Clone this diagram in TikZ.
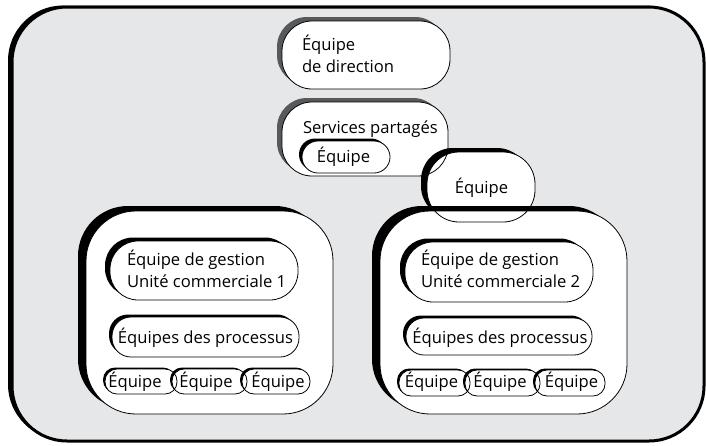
\documentclass[tikz,border=0pt]{standalone}
\usepackage{fontspec}
\setmainfont{Open Sans}
\usetikzlibrary{shadows}
\definecolor{panel}{HTML}{E6E7E8}
\definecolor{brushgray}{HTML}{58595B}
\newcommand{\labelfont}{\fontsize{16.6}{22}\selectfont}
\tikzset{
  card/.style={rectangle, fill=white, draw=none, inner sep=0pt, outer sep=0pt},
  brush/.style 2 args={general shadow={fill=black, shadow xshift=-#1, shadow yshift=#2}},
  greybrush/.style 2 args={general shadow={fill=brushgray, shadow xshift=-#1, shadow yshift=#2}},
  txt/.style={inner sep=0pt, outer sep=0pt, font=\labelfont},
  rim/.style={draw=black, line width=0.8pt},
}
\begin{document}
\begin{tikzpicture}[x=1pt, y=-1pt]
\useasboundingbox (0,0) rectangle (706,445);

% background panel
\node[card, fill=panel, draw=black, line width=3pt, rounded corners=55pt,
      brush={4pt}{1.5pt}, minimum width=692pt, minimum height=434pt] (panel) at (358,224) {};

% management and shared services
\node[card, rounded corners=30pt, greybrush={5pt}{4pt}, minimum width=168pt, minimum height=68pt] (dir) at (366,55) {};
\node[card, rounded corners=30pt, greybrush={5pt}{4pt}, minimum width=166pt, minimum height=74pt] (svc) at (365,139) {};
\node[card, rounded corners=16pt, brush={3pt}{2.5pt}, minimum width=88pt, minimum height=32pt] (svct) at (346,157) {};
\node[card, rounded corners=32pt, brush={6pt}{4pt}, minimum width=108pt, minimum height=70pt] (mid) at (481,187) {};

% business units
\node[card, rounded corners=50pt, brush={8pt}{5pt}, minimum width=247pt, minimum height=203pt] (bu1) at (209.5,312.5) {};
\node[card, rounded corners=50pt, brush={8pt}{5pt}, minimum width=247pt, minimum height=203pt] (bu2) at (503.5,312.5) {};

\node[card, rounded corners=28pt, brush={5pt}{3.5pt}, minimum width=188pt, minimum height=59pt] (g1) at (204,270.5) {};
\node[card, rounded corners=28pt, brush={5pt}{3.5pt}, minimum width=188pt, minimum height=60pt] (g2) at (499,272) {};

\node[card, rounded corners=19pt, brush={3pt}{2.5pt}, minimum width=187pt, minimum height=40pt] (p1) at (205.5,337) {};
\node[card, rounded corners=18pt, brush={3pt}{2.5pt}, minimum width=186pt, minimum height=37pt] (p2) at (499,336.5) {};

\node[card, rounded corners=12pt, brush={2pt}{1.5pt}, minimum width=72pt, minimum height=25pt] (r1a) at (141,381.5) {};
\node[card, rounded corners=12pt, brush={2pt}{1.5pt}, minimum width=75pt, minimum height=25pt] (r1b) at (209.5,381.5) {};
\node[card, rounded corners=12pt, brush={2pt}{1.5pt}, minimum width=68pt, minimum height=25pt] (r1c) at (276,381.5) {};
\node[card, rounded corners=12pt, brush={2pt}{1.5pt}, minimum width=71pt, minimum height=26pt] (r2a) at (434.5,383) {};
\node[card, rounded corners=12pt, brush={2pt}{1.5pt}, minimum width=75pt, minimum height=26pt] (r2b) at (502.5,383) {};
\node[card, rounded corners=12pt, brush={2pt}{1.5pt}, minimum width=70pt, minimum height=26pt] (r2c) at (570,383) {};

% thin outlines on top of all fills
\foreach \n/\r in {dir/30, svc/30, svct/16, mid/32, bu1/50, bu2/50, g1/28, g2/28,
                   p1/19, p2/18, r1a/12, r1b/12, r1c/12, r2a/12, r2b/12, r2c/12}
  \draw[rim, rounded corners=\r pt] (\n.north west) rectangle (\n.south east);

% labels
\node[txt, anchor=base west] (dirl1) at (302,50) {Équipe};
\node[txt, anchor=base west] (dirl2) at (302,72) {de direction};
\node[txt, anchor=base west] (svcl) at (303,133) {Services partagés};
\node[txt, anchor=base] (svctl) at (343.5,162) {Équipe};
\node[txt, anchor=base] (midl) at (481.5,193) {Équipe};

\node[txt, anchor=base west] (g1l1) at (127,265) {Équipe de gestion};
\node[txt, anchor=base west] (g1l2) at (127,287) {Unité commerciale 1};
\node[txt, anchor=base west] (g2l1) at (421,265) {Équipe de gestion};
\node[txt, anchor=base west] (g2l2) at (421,287) {Unité commerciale 2};

\node[txt, anchor=base] (p1l) at (205.5,343) {Équipes des processus};
\node[txt, anchor=base] (p2l) at (500,343) {Équipes des processus};

\node[txt, anchor=base] (r1al) at (135,387) {Équipe};
\node[txt, anchor=base] (r1bl) at (206,387) {Équipe};
\node[txt, anchor=base] (r1cl) at (278,387) {Équipe};
\node[txt, anchor=base] (r2al) at (431.5,387) {Équipe};
\node[txt, anchor=base] (r2bl) at (500,387) {Équipe};
\node[txt, anchor=base] (r2cl) at (571.5,387) {Équipe};
\end{tikzpicture}
\end{document}
